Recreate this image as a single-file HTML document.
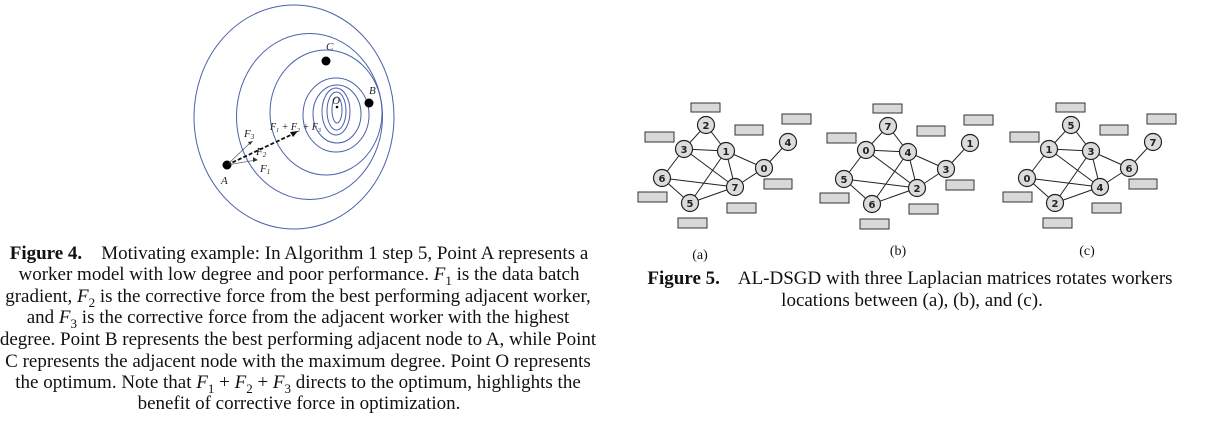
<!DOCTYPE html>
<html><head><meta charset="utf-8"><style>
body{margin:0;width:1205px;height:433px;background:#fff;position:relative;overflow:hidden;font-family:"Liberation Serif",serif;color:#111}
.l{position:absolute;white-space:nowrap;font-size:19px;line-height:21px}
.c{transform:translateX(-50%)}
i{font-style:italic}
sub{font-size:13px;line-height:0}
</style></head><body>
<svg width="1205" height="240" style="position:absolute;left:0;top:0">
<g fill="none" stroke="#4a62a8" stroke-width="1">
<ellipse cx="294" cy="117" rx="100" ry="112"/>
<ellipse cx="309.5" cy="116.5" rx="73" ry="83"/>
<ellipse cx="326" cy="112.5" rx="56" ry="62.5"/>
<ellipse cx="336" cy="115" rx="33" ry="37"/>
<ellipse cx="337" cy="114" rx="24" ry="29"/>
<ellipse cx="336" cy="111.5" rx="14" ry="23.5"/>
<ellipse cx="336.5" cy="111" rx="9.5" ry="19"/>
<ellipse cx="337" cy="110" rx="5" ry="13"/>
</g>
<circle cx="337" cy="107" r="1.3" fill="#000"/>
<circle cx="326" cy="61" r="4.5" fill="#000"/>
<circle cx="369" cy="103" r="4.5" fill="#000"/>
<circle cx="227" cy="165" r="4.5" fill="#000"/>
<g font-family="Liberation Serif,serif" font-style="italic" font-size="11" fill="#222">
<text x="326" y="50">C</text><text x="369" y="94">B</text><text x="332" y="104">O</text><text x="221" y="184">A</text>
<text x="244" y="137">F<tspan font-size="7" dy="2">3</tspan></text>
<text x="256" y="155">F<tspan font-size="7" dy="2">2</tspan></text>
<text x="260" y="172">F<tspan font-size="7" dy="2">1</tspan></text>
<text x="270" y="130" font-size="10">F<tspan font-size="6" dy="2">1</tspan><tspan dy="-2"> + F</tspan><tspan font-size="6" dy="2">2</tspan><tspan dy="-2"> + F</tspan><tspan font-size="6" dy="2">3</tspan></text>
</g>
<g stroke="#555" stroke-width="0.7" fill="none">
<line x1="227" y1="165" x2="251" y2="142"/><line x1="227" y1="165" x2="256" y2="160"/>
</g>
<line x1="227" y1="165" x2="295" y2="133" stroke="#111" stroke-width="1.8" stroke-dasharray="4,2"/>
<polygon points="298,131 290,132 293,137" fill="#111"/>
<polygon points="253,141 248,142 250,145" fill="#333"/>
<polygon points="258,160 253,157 253,162" fill="#333"/>
<g id="ga">
<g fill="#d8d8d8" stroke="#333" stroke-width="1">
<rect x="691" y="103" width="29" height="9"/><rect x="782" y="114" width="29" height="10"/>
<rect x="735" y="125" width="28" height="10"/><rect x="645" y="132" width="29" height="10"/>
<rect x="764" y="179" width="28" height="10"/><rect x="638" y="192" width="29" height="10"/>
<rect x="727" y="203" width="29" height="10"/><rect x="678" y="218" width="29" height="10"/>
</g>
<g stroke="#222" stroke-width="1">
<line x1="706" y1="125" x2="684" y2="149"/><line x1="706" y1="125" x2="726" y2="151"/>
<line x1="684" y1="149" x2="726" y2="151"/><line x1="684" y1="149" x2="662" y2="178"/>
<line x1="684" y1="149" x2="735" y2="187"/><line x1="726" y1="151" x2="764" y2="168"/>
<line x1="726" y1="151" x2="735" y2="187"/><line x1="726" y1="151" x2="690" y2="203"/>
<line x1="764" y1="168" x2="788" y2="142"/><line x1="764" y1="168" x2="735" y2="187"/>
<line x1="662" y1="178" x2="735" y2="187"/><line x1="662" y1="178" x2="690" y2="203"/>
<line x1="690" y1="203" x2="735" y2="187"/>
</g>
<g fill="#dcdcdc" stroke="#222" stroke-width="1.2">
<circle cx="706" cy="125" r="8.5"/><circle cx="684" cy="149" r="8.5"/><circle cx="726" cy="151" r="8.5"/><circle cx="764" cy="168" r="8.5"/>
<circle cx="788" cy="142" r="8.5"/><circle cx="662" cy="178" r="8.5"/><circle cx="735" cy="187" r="8.5"/><circle cx="690" cy="203" r="8.5"/>
</g>
</g>
<g font-family="DejaVu Sans,sans-serif" font-weight="bold" font-size="10" fill="#222" text-anchor="middle">
<text x="706" y="129">2</text><text x="684" y="153">3</text><text x="726" y="155">1</text><text x="764" y="172">0</text>
<text x="788" y="146">4</text><text x="662" y="182">6</text><text x="735" y="191">7</text><text x="690" y="207">5</text>
</g>
<use href="#ga" x="182" y="1"/>
<g font-family="DejaVu Sans,sans-serif" font-weight="bold" font-size="10" fill="#222" text-anchor="middle" transform="translate(182,1)">
<text x="706" y="129">7</text><text x="684" y="153">0</text><text x="726" y="155">4</text><text x="764" y="172">3</text>
<text x="788" y="146">1</text><text x="662" y="182">5</text><text x="735" y="191">2</text><text x="690" y="207">6</text>
</g>
<use href="#ga" x="365" y="0"/>
<g font-family="DejaVu Sans,sans-serif" font-weight="bold" font-size="10" fill="#222" text-anchor="middle" transform="translate(365,0)">
<text x="706" y="129">5</text><text x="684" y="153">1</text><text x="726" y="155">3</text><text x="764" y="172">6</text>
<text x="788" y="146">7</text><text x="662" y="182">0</text><text x="735" y="191">4</text><text x="690" y="207">2</text>
</g>
</svg>
<div class="l c" style="left:299px;top:243px"><b>Figure 4.</b>&nbsp;&nbsp;&nbsp; Motivating example: In Algorithm 1 step 5, Point A represents a</div>
<div class="l c" style="left:299px;top:264px">worker model with low degree and poor performance. <i>F</i><sub>1</sub> is the data batch</div>
<div class="l c" style="left:298px;top:286px">gradient, <i>F</i><sub>2</sub> is the corrective force from the best performing adjacent worker,</div>
<div class="l c" style="left:298px;top:307px">and <i>F</i><sub>3</sub> is the corrective force from the adjacent worker with the highest</div>
<div class="l c" style="left:298px;top:329px">degree. Point B represents the best performing adjacent node to A, while Point</div>
<div class="l c" style="left:298px;top:351px">C represents the adjacent node with the maximum degree. Point O represents</div>
<div class="l c" style="left:298px;top:372px">the optimum. Note that <i>F</i><sub>1</sub> + <i>F</i><sub>2</sub> + <i>F</i><sub>3</sub> directs to the optimum, highlights the</div>
<div class="l c" style="left:299px;top:393px">benefit of corrective force in optimization.</div>
<div class="l c" style="left:700px;top:245px;font-size:14px">(a)</div>
<div class="l c" style="left:898px;top:241px;font-size:14px">(b)</div>
<div class="l c" style="left:1087px;top:241px;font-size:14px">(c)</div>
<div class="l c" style="left:910px;top:268px"><b>Figure 5.</b>&nbsp;&nbsp;&nbsp; AL-DSGD with three Laplacian matrices rotates workers</div>
<div class="l c" style="left:912px;top:290px">locations between (a), (b), and (c).</div>
</body></html>
